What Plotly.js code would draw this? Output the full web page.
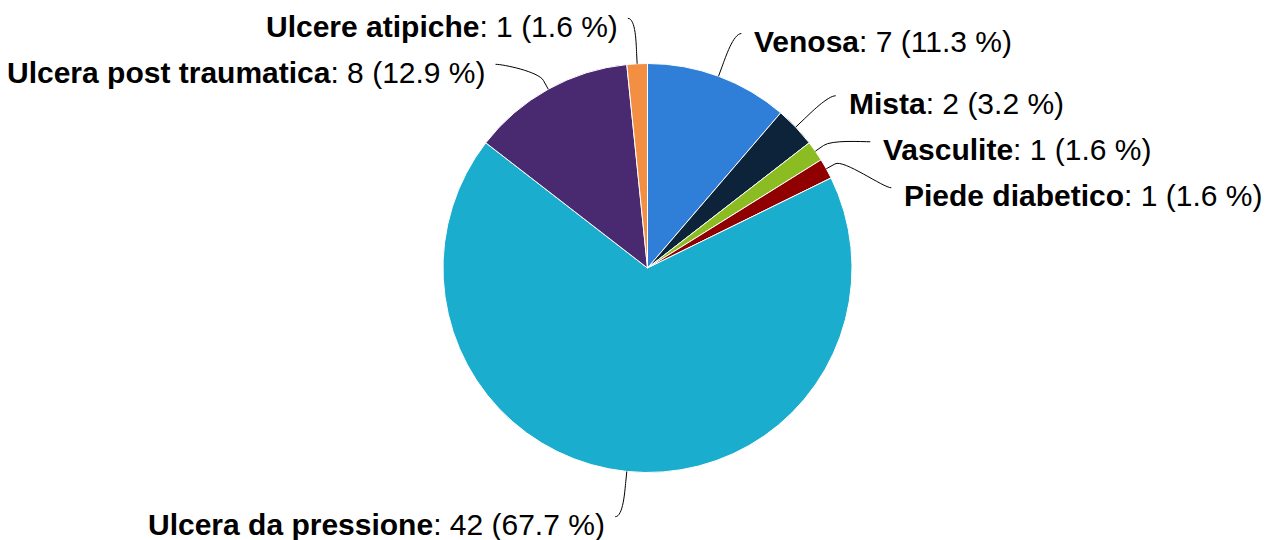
<!DOCTYPE html>
<html>
<head>
<meta charset="utf-8">
<script src="https://cdn.plot.ly/plotly-3.0.1.min.js"></script>
<style>html,body{margin:0;padding:0;background:#fff;}#chart{width:1269px;height:540px;}</style>
</head>
<body>
<div id="chart"></div>
<script>
const categories = ["Venosa", "Mista", "Vasculite", "Piede diabetico", "Ulcera da pressione", "Ulcera post traumatica", "Ulcere atipiche"];
const counts = [7, 2, 1, 1, 42, 8, 1];
const sliceColors = ["#2f7ed8", "#0d233a", "#8bbc21", "#910000", "#1aadce", "#492970", "#f28f43"];

const W = 1269, H = 540;
const cx = 647.5, cy = 268, r = 204.5;
const R = 250;          // label radius
const gap = 46;         // min vertical spacing between labels
const yMax = 518;       // lowest anchor y
const total = counts.reduce((a, b) => a + b, 0);

// slice mid angles (clockwise from 12 o'clock)
let cum = 0;
const info = counts.map((v, i) => {
  const mid = (cum + v / 2) / total * 2 * Math.PI;
  cum += v;
  const side = Math.sin(mid) >= 0 ? 1 : -1;
  return { i, mid, side, ay: cy - R * Math.cos(mid), ax: 0 };
});

[1, -1].forEach(side => {
  const group = info.filter(d => d.side === side).sort((a, b) => a.ay - b.ay);
  for (let k = 1; k < group.length; k++) {
    if (group[k].ay < group[k - 1].ay + gap) group[k].ay = group[k - 1].ay + gap;
  }
  group.forEach(d => {
    if (d.ay > yMax) d.ay = yMax;
    const dy = d.ay - cy;
    d.ax = cx + side * (Math.sqrt(Math.max(0, R * R - dy * dy)) + 7);
  });
});

const px = x => x / W, py = y => 1 - y / H;
const annotations = [], shapes = [];
info.forEach(d => {
  const i = d.i;
  const pct = (counts[i] / total * 100).toFixed(1);
  annotations.push({
    xref: 'paper', yref: 'paper',
    x: px(d.ax + (d.side > 0 ? 11 : -8)), y: py(d.ay + 8),
    xanchor: d.side > 0 ? 'left' : 'right', yanchor: 'middle',
    showarrow: false,
    text: '<b>' + categories[i] + '</b>: ' + counts[i] + ' (' + pct + ' %)',
    font: { family: 'Liberation Sans, Arial, sans-serif', size: 30, color: '#000' }
  });
  const sx = Math.sin(d.mid), sy = -Math.cos(d.mid);
  const x0 = cx + r * sx, y0 = cy + r * sy;          // touching slice
  const xb = cx + (r + 10) * sx, yb = cy + (r + 10) * sy; // break point
  const x1 = 2 * xb - x0, y1 = 2 * yb - y0;
  const x2 = d.ax - d.side * 8, y2 = d.ay;
  shapes.push({
    type: 'path', xref: 'paper', yref: 'paper',
    path: `M ${px(x0)} ${py(y0)} L ${px(xb)} ${py(yb)} C ${px(x1)} ${py(y1)} ${px(x2)} ${py(y2)} ${px(d.ax)} ${py(d.ay)}`,
    line: { color: '#000', width: 1 }
  });
});

const trace = {
  type: 'pie',
  labels: categories,
  values: counts,
  sort: false,
  direction: 'clockwise',
  rotation: 0,
  textinfo: 'none',
  hoverinfo: 'none',
  marker: { colors: sliceColors, line: { color: '#ffffff', width: 1 } },
  domain: { x: [(cx - r) / W, (cx + r) / W], y: [1 - (cy + r) / H, 1 - (cy - r) / H] }
};

Plotly.newPlot('chart', [trace], {
  width: W, height: H,
  margin: { l: 0, r: 0, t: 0, b: 0 },
  paper_bgcolor: '#fff', plot_bgcolor: '#fff',
  showlegend: false,
  annotations, shapes
}, { staticPlot: true });
</script>
</body>
</html>
